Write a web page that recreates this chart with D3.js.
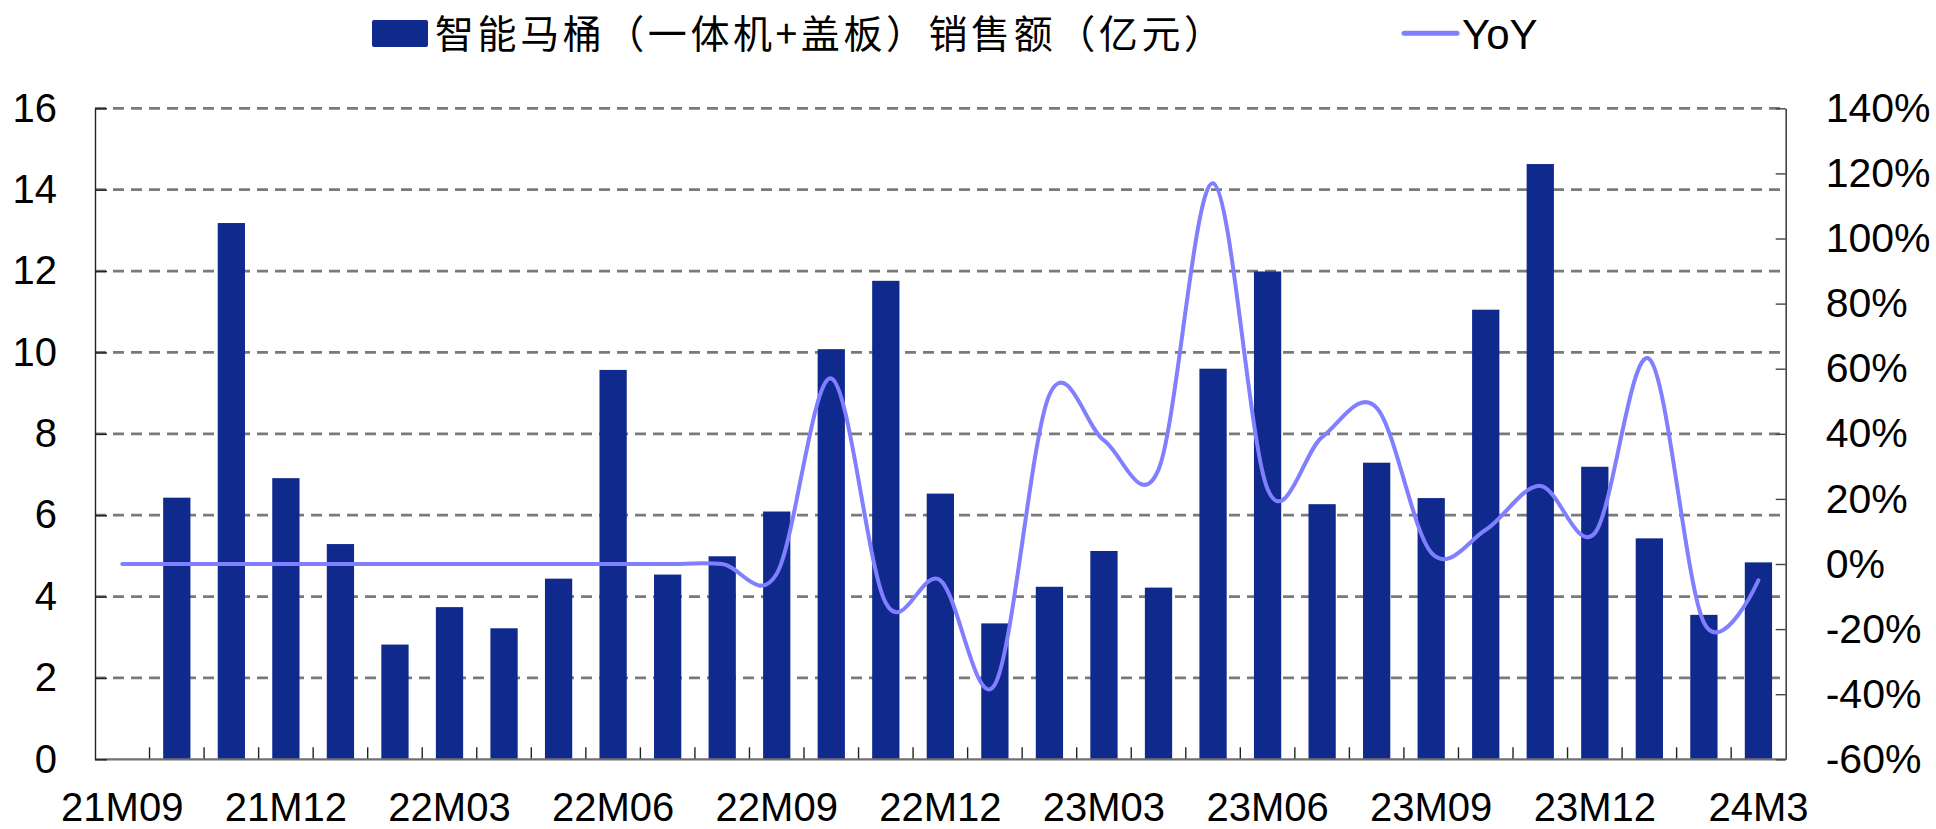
<!DOCTYPE html>
<html>
<head>
<meta charset="utf-8">
<script src="https://cdn.jsdelivr.net/npm/d3@7"></script>
<style>
  html, body { margin: 0; padding: 0; background: #fff; }
  svg { display: block; }
</style>
</head>
<body>
<svg id="chart" width="1936" height="829"></svg>
<script>
// ---- data ----
const categories = [
  '21M09','21M10','21M11','21M12',
  '22M01','22M02','22M03','22M04','22M05','22M06','22M07','22M08','22M09','22M10','22M11','22M12',
  '23M01','23M02','23M03','23M04','23M05','23M06','23M07','23M08','23M09','23M10','23M11','23M12',
  '24M01','24M02','24M3'
];
const sales = [
  null, 6.43, 13.18, 6.91,
  5.29, 2.82, 3.74, 3.22, 4.44, 9.57, 4.54, 4.99, 6.09, 10.08, 11.76, 6.53,
  3.34, 4.24, 5.12, 4.22, 9.60, 11.99, 6.27, 7.29, 6.42, 11.05, 14.63, 7.19,
  5.43, 3.55, 4.84
];
const yoy = [
  0, 0, 0, 0,
  0, 0, 0, 0, 0, 0, 0, 0, -3, 57, -12, -5,
  -37, 52, 38, 29, 117, 23, 39, 48, 3.5, 10.5, 24, 9.5,
  63, -18, -5
];
const leftTicks = [0, 2, 4, 6, 8, 10, 12, 14, 16];
const rightTicks = [-60, -40, -20, 0, 20, 40, 60, 80, 100, 120, 140];
const xTickLabels = ['21M09','21M12','22M03','22M06','22M09','22M12','23M03','23M06','23M09','23M12','24M3'];
const seriesNames = ['智能马桶（一体机+盖板）销售额（亿元）', 'YoY'];

// ---- layout ----
const L = 95, R = 1785.7, T = 108.3, B = 759.3;
const barColor = '#10298C', lineColor = '#7F7FFF';
const latin = "'Liberation Sans', Arial, sans-serif";
const cjk = "'Noto Sans CJK SC', 'Noto Sans', sans-serif";

const svg = d3.select('#chart');

const x = d3.scaleBand().domain(categories).range([L, R]).paddingInner(0.5).paddingOuter(0.25);
const yL = d3.scaleLinear().domain([0, 16]).range([B, T]);
const yR = d3.scaleLinear().domain([-60, 140]).range([B, T]);
const step = x.step();
const cx = c => x(c) + x.bandwidth() / 2;

// gridlines
svg.append('g').selectAll('line').data(leftTicks.filter(d => d > 0)).join('line')
  .attr('x1', L).attr('x2', R)
  .attr('y1', d => yL(d)).attr('y2', d => yL(d))
  .attr('stroke', '#7a7a7a').attr('stroke-width', 2.8).attr('stroke-dasharray', '11,7');

// bars
const barData = categories.map((c, i) => ({c, v: sales[i]})).filter(d => d.v != null);
svg.append('g').selectAll('rect').data(barData).join('rect')
  .attr('x', d => x(d.c)).attr('width', x.bandwidth())
  .attr('y', d => yL(d.v)).attr('height', d => yL(0) - yL(d.v))
  .attr('fill', barColor);

// category boundary ticks (inward)
const boundaries = d3.range(1, categories.length).map(k => x(categories[k]) - step * x.paddingInner() / 2);
svg.append('g').selectAll('line').data(boundaries).join('line')
  .attr('x1', d => d).attr('x2', d => d)
  .attr('y1', B).attr('y2', B - 12)
  .attr('stroke', '#222').attr('stroke-width', 1.4);

// bottom axis (labels only)
const xAxis = svg.append('g').attr('transform', `translate(0,${B})`)
  .call(d3.axisBottom(x)
    .tickValues(categories.filter((c, i) => i % 3 === 0))
    .tickFormat((c) => xTickLabels[categories.indexOf(c) / 3])
    .tickSize(0).tickPadding(33));
xAxis.select('.domain').remove();
xAxis.selectAll('text').attr('font-family', latin).attr('font-size', 40).attr('fill', '#000');

// baseline
svg.append('line').attr('x1', L).attr('x2', R).attr('y1', B).attr('y2', B)
  .attr('stroke', '#707070').attr('stroke-width', 2.2);

// left axis
const leftAxis = svg.append('g').attr('transform', `translate(${L},0)`)
  .call(d3.axisLeft(yL).tickValues(leftTicks).tickSize(-12).tickSizeOuter(0).tickPadding(38));
leftAxis.select('.domain').attr('stroke', '#222').attr('stroke-width', 1.4);
leftAxis.selectAll('.tick line').attr('stroke', '#222').attr('stroke-width', 1.4);
leftAxis.selectAll('text').attr('font-family', latin).attr('font-size', 40).attr('fill', '#000');

// right axis
const rightAxis = svg.append('g').attr('transform', `translate(${R},0)`)
  .call(d3.axisRight(yR).tickValues(rightTicks).tickSize(-10).tickSizeOuter(0).tickPadding(40)
    .tickFormat(d => d + '%'));
rightAxis.select('.domain').attr('stroke', '#444').attr('stroke-width', 1.6);
rightAxis.selectAll('.tick line').attr('stroke', '#444').attr('stroke-width', 1.4);
rightAxis.selectAll('text').attr('font-family', latin).attr('font-size', 41).attr('fill', '#000');

// YoY line
const lineGen = d3.line()
  .x((d, i) => cx(categories[i]))
  .y(d => yR(d))
  .curve(d3.curveCatmullRom.alpha(0));
svg.append('path').datum(yoy)
  .attr('d', lineGen)
  .attr('fill', 'none').attr('stroke', lineColor).attr('stroke-width', 4)
  .attr('stroke-linejoin', 'round').attr('stroke-linecap', 'round');

// legend
const lg = svg.append('g');
lg.append('rect').attr('x', 372).attr('y', 20).attr('width', 56).attr('height', 27)
  .attr('rx', 2).attr('fill', barColor);
lg.append('text').attr('x', 435).attr('y', 33.5).attr('dy', '0.36em')
  .attr('font-family', cjk).attr('font-size', 39).attr('fill', '#000')
  .attr('textLength', 788).attr('lengthAdjust', 'spacing')
  .text(seriesNames[0]);
lg.append('line').attr('x1', 1404).attr('x2', 1457).attr('y1', 33.3).attr('y2', 33.3)
  .attr('stroke', lineColor).attr('stroke-width', 5).attr('stroke-linecap', 'round');
lg.append('text').attr('x', 1462).attr('y', 33.5).attr('dy', '0.36em')
  .attr('font-family', latin).attr('font-size', 42).attr('fill', '#000')
  .text(seriesNames[1]);
</script>
</body>
</html>
